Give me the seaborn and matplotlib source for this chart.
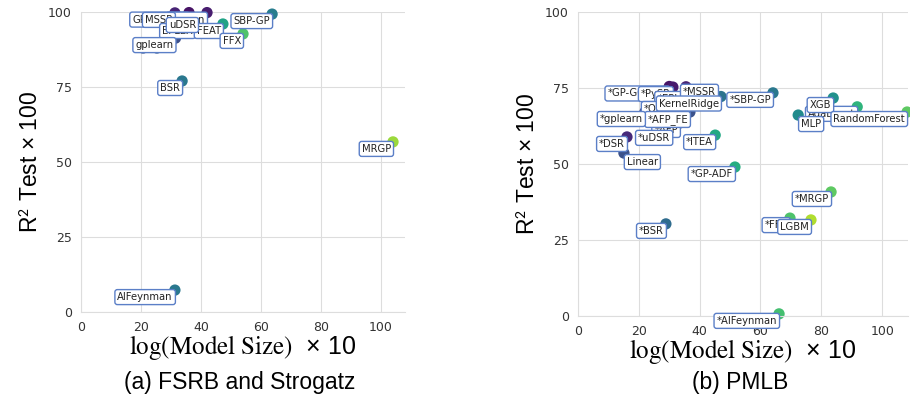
import matplotlib
matplotlib.use("Agg")
import matplotlib.pyplot as plt
import pandas as pd
import seaborn as sns

# ---- (a) FSRB and Strogatz ----
names_a = ['GP-GOMEA', 'Operon', 'MSSR', 'EPLEX', 'FEAT', 'FFX', 'uDSR', 'SBP-GP',
           '', '', 'gplearn', 'BSR', 'MRGP', 'AIFeynman']
size_a = [36.0, 42.0, 31.3, 38.0, 47.3, 54.0, 39.0, 63.7,
          20.7, 25.3, 31.5, 33.7, 104.0, 31.3]
r2_a = [99.8, 99.8, 99.7, 96.0, 96.0, 92.7, 98.0, 99.3,
        88.0, 88.0, 91.3, 77.0, 56.7, 7.3]
shade_a = [0.05, 0.08, 0.10, 0.20, 0.58, 0.72, 0.22, 0.42,
           0.26, 0.28, 0.24, 0.40, 0.85, 0.40]

# ---- (b) PMLB ----
names_b = ['*GP-GOMEA', '*PySR', '*EPLEX', '*MSSR', '*Operon', 'KernelRidge', '*SBP-GP',
           '*AFP', '*AFP_FE', '*gplearn', '*uDSR', '*DSR', 'Linear', '*ITEA', '*GP-ADF',
           '*BSR', '*FFX', 'LGBM', '*MRGP', '*AIFeynman', 'AdaBoost', 'XGB', 'MLP',
           'RandomForest']
size_b = [30.0, 31.2, 38.5, 35.5, 35.9, 47.0, 64.1,
          33.5, 36.8, 22.0, 31.0, 16.1, 15.1, 45.1, 51.6,
          28.9, 69.7, 76.6, 83.2, 66.1, 91.8, 83.9, 72.4,
          108.2]
r2_b = [75.5, 75.3, 73.7, 75.4, 70.4, 72.2, 73.4,
        63.5, 67.1, 67.1, 60.9, 58.9, 53.6, 59.5, 49.0,
        30.3, 32.2, 31.6, 40.8, 0.7, 68.8, 71.7, 66.1,
        67.1]
shade_b = [0.05, 0.07, 0.20, 0.10, 0.18, 0.38, 0.40,
           0.25, 0.25, 0.22, 0.22, 0.12, 0.25, 0.60, 0.62,
           0.35, 0.72, 0.88, 0.75, 0.70, 0.65, 0.50, 0.48,
           0.75]

# labels that were pushed away from their point (pixels)
nudge_b = {'*MSSR': (32, 2), 'Linear': (36, -2), 'MLP': (25, -2)}

sns.set_style('whitegrid', {'grid.color': '#dddddd', 'axes.edgecolor': '#dddddd'})
plt.rcParams['font.family'] = ['DejaVu Sans']
plt.rcParams['mathtext.fontset'] = 'stix'

fig = plt.figure(figsize=(9.1, 4.08), dpi=100)
ax_a = fig.add_axes([81 / 910, 1 - 312 / 408, 324 / 910, 300 / 408])
ax_b = fig.add_axes([578 / 910, 1 - 316 / 408, 330 / 910, 304 / 408])


def draw_panel(ax, names, sizes, r2, shades, xmax, nudges):
    df = pd.DataFrame({'name': names, 'size': sizes, 'r2': r2, 'shade': shades})
    sns.scatterplot(data=df, x='size', y='r2', hue='shade', palette='viridis',
                    hue_norm=(0, 1), s=66, linewidth=0, legend=False, ax=ax,
                    clip_on=False, zorder=2)
    for _, row in df.iterrows():
        if not row['name']:
            continue
        dx, dy = nudges.get(row['name'], (0, 0))
        ax.annotate(row['name'], (row['size'], row['r2']),
                    xytext=(-2 + dx, -2 + dy), textcoords='offset pixels',
                    ha='right', va='top', fontsize=7.2, color='#222222',
                    bbox=dict(boxstyle='round,pad=0.25', fc='white',
                              ec='#5b7fc7', lw=1), zorder=5,
                    annotation_clip=False)
    ax.set_xlim(0, xmax)
    ax.set_ylim(0, 100)
    ax.set_xticks([0, 20, 40, 60, 80, 100])
    ax.set_yticks([0, 25, 50, 75, 100])
    ax.tick_params(labelsize=9, colors='#333333', pad=3)
    sns.despine(ax=ax, top=True, right=True)
    ax.set_xlabel(r'$\mathrm{log(Model\ Size)}$  × 10', fontsize=18,
                  family='Liberation Sans', labelpad=-1, color='black')
    ax.set_ylabel(r'R$^{\mathsf{2}}$ Test × 100', fontsize=16.5,
                  family='Liberation Sans', labelpad=4, color='black')


draw_panel(ax_a, names_a, size_a, r2_a, shade_a, 108, {})
draw_panel(ax_b, names_b, size_b, r2_b, shade_b, 108.5, nudge_b)

fig.text(240 / 910, 1 - 383 / 408, '(a) FSRB and Strogatz', ha='center',
         va='center', fontsize=16.5, family='Liberation Sans', color='black')
fig.text(740 / 910, 1 - 383 / 408, '(b) PMLB', ha='center',
         va='center', fontsize=16.5, family='Liberation Sans', color='black')

fig.savefig('out.png', dpi=100)
